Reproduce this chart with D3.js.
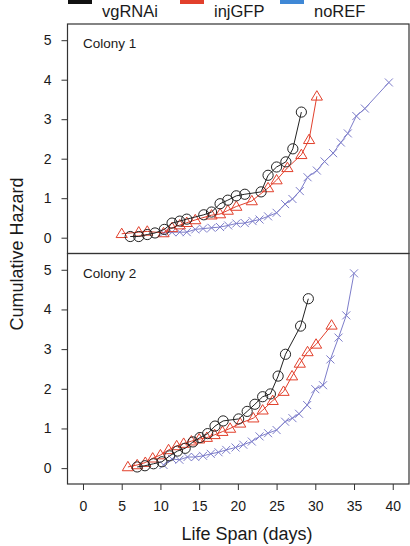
<!DOCTYPE html>
<html><head><meta charset="utf-8">
<script src="https://cdn.jsdelivr.net/npm/d3@7/dist/d3.min.js"></script>
<style>body{margin:0;background:#fff}svg{display:block}text{font-family:"Liberation Sans",Arial,sans-serif}</style>
</head><body><svg id="c" width="410" height="546"></svg>
<script>
const seriesNames = ["vgRNAi","injGFP","noREF"];
const legendColors = ["#111111","#e2402c","#3f88d6"];
const xTicks = [0,5,10,15,20,25,30,35,40];
const yTicks = [0,1,2,3,4,5];
const panelLabels = ["Colony 1","Colony 2"];

// Colony 1
const c1VgDays = [6.1,7.2,8.3,9.3,10.5,11.5,12.5,13.4,15.6,16.6,17.7,18.7,19.8,20.9,23.0,23.9,25.0,26.2,27.1,28.2];
const c1VgHaz  = [0.03,0.03,0.08,0.12,0.21,0.37,0.42,0.47,0.58,0.65,0.86,0.95,1.06,1.10,1.16,1.58,1.79,1.92,2.25,3.18];
const c1InjDays = [5.0,7.2,8.3,10.4,11.5,12.5,13.4,14.5,16.6,17.7,18.7,19.8,21.8,23.9,25.0,26.4,28.2,29.2,30.2];
const c1InjHaz  = [0.10,0.14,0.16,0.12,0.25,0.32,0.38,0.45,0.57,0.60,0.69,0.79,0.93,1.26,1.46,1.77,2.10,2.48,3.58];
const c1NoDays = [10.4,11.5,12.5,13.4,14.5,15.5,16.6,17.7,18.75,19.8,20.9,21.9,22.8,23.9,25.0,26.1,27.05,28.0,29.0,30.2,31.2,32.3,33.3,34.2,35.3,36.4,39.5];
const c1NoHaz  = [0.12,0.14,0.14,0.14,0.21,0.23,0.25,0.27,0.31,0.36,0.37,0.42,0.46,0.54,0.63,0.85,0.98,1.18,1.53,1.70,1.93,2.14,2.41,2.64,3.08,3.27,3.93];

// Colony 2
const c2VgDays = [7.0,8.0,9.1,10.2,11.2,12.2,13.2,14.2,15.1,16.1,17.05,18.1,20.1,21.2,22.2,23.2,24.2,25.2,26.15,28.1,29.1];
const c2VgHaz  = [0.03,0.06,0.11,0.16,0.31,0.43,0.50,0.66,0.77,0.87,1.06,1.19,1.24,1.43,1.61,1.80,1.87,2.32,2.87,3.58,4.27];
const c2InjDays = [5.8,7.0,8.05,9.0,10.0,11.05,12.1,13.0,14.0,15.0,16.0,17.0,18.0,19.0,20.3,22.0,23.2,24.5,25.9,27.0,28.0,29.0,30.1,32.1];
const c2InjHaz  = [0.03,0.08,0.14,0.25,0.33,0.46,0.56,0.62,0.68,0.73,0.77,0.84,0.92,1.00,1.13,1.26,1.46,1.70,1.93,2.32,2.64,2.93,3.12,3.60];
const c2NoDays = [10.4,11.5,12.45,13.5,14.5,15.5,16.5,17.5,18.5,19.7,20.7,21.8,22.8,23.9,25.0,26.1,27.05,27.9,28.95,30.0,31.0,31.95,33.0,34.0,35.0];
const c2NoHaz  = [0.08,0.23,0.21,0.28,0.28,0.31,0.36,0.40,0.46,0.52,0.59,0.67,0.80,0.88,0.96,1.17,1.26,1.37,1.59,1.99,2.09,2.74,3.29,3.85,4.91];

const panels = [
  {label: panelLabels[0], top: 24, bottom: 253.5,
   series: [[c1NoDays,c1NoHaz],[c1InjDays,c1InjHaz],[c1VgDays,c1VgHaz]]},
  {label: panelLabels[1], top: 253.5, bottom: 484,
   series: [[c2NoDays,c2NoHaz],[c2InjDays,c2InjHaz],[c2VgDays,c2VgHaz]]}
];
const markColors = ["#7d7dca","#e2402c","#222222"];
const markTypes = ["cross","triangle","circle"];

const svg = d3.select("#c");
const left = 67.5, right = 409;
const x = d3.scaleLinear().domain([-2, 42.1]).range([left, right]);

panels.forEach((p, pi) => {
  const y = d3.scaleLinear().domain([-0.4, 5.41]).range([p.bottom, p.top]);
  const g = svg.append("g");
  const ya = g.append("g").attr("transform", `translate(${left},0)`)
    .call(d3.axisLeft(y).tickValues(yTicks).tickSize(6).tickPadding(10).tickFormat(d3.format("d")));
  ya.select(".domain").remove();
  ya.selectAll("line").attr("stroke","#333");
  ya.selectAll("text").attr("font-size", 14).attr("fill","#1a1a1a")
    .style("font-family","'Liberation Sans',Arial,sans-serif");
  p.series.forEach((s, si) => {
    const pts = s[0].map((d, i) => [d, s[1][i]]);
    g.append("path").datum(pts)
      .attr("fill","none").attr("stroke", markColors[si]).attr("stroke-width", 1)
      .attr("d", d3.line().x(d => x(d[0])).y(d => y(d[1])));
    const mk = g.append("g");
    pts.forEach(d => {
      const cx = x(d[0]), cy = y(d[1]);
      if (markTypes[si] === "circle") {
        mk.append("circle").attr("cx", cx).attr("cy", cy).attr("r", 5.1)
          .attr("fill","none").attr("stroke", markColors[si]).attr("stroke-width", 1);
      } else if (markTypes[si] === "triangle") {
        mk.append("path").attr("transform", `translate(${cx},${cy})`)
          .attr("d", "M0,-5.6L5.6,3.8L-5.6,3.8Z")
          .attr("fill","none").attr("stroke", markColors[si]).attr("stroke-width", 1);
      } else {
        mk.append("path").attr("transform", `translate(${cx},${cy})`)
          .attr("d", "M-4,-4L4,4M-4,4L4,-4")
          .attr("fill","none").attr("stroke", markColors[si]).attr("stroke-width", 1);
      }
    });
  });
  g.append("rect").attr("x", left).attr("y", p.top).attr("width", right - left).attr("height", p.bottom - p.top)
    .attr("fill","none").attr("stroke","#333").attr("stroke-width", 1.2);
  g.append("text").attr("x", 83).attr("y", p.top + 24).attr("font-size", 13.5).attr("fill","#1a1a1a").text(p.label);
});

const xa = svg.append("g").attr("transform", `translate(0,484)`)
  .call(d3.axisBottom(x).tickValues(xTicks).tickSize(6).tickPadding(11));
xa.select(".domain").remove();
xa.selectAll("line").attr("stroke","#333");
xa.selectAll("text").attr("font-size", 14).attr("fill","#1a1a1a")
  .style("font-family","'Liberation Sans',Arial,sans-serif");

svg.append("text").attr("x", 247).attr("y", 540).attr("text-anchor","middle")
  .attr("font-size", 18).attr("fill","#1a1a1a").text("Life Span (days)");
svg.append("text").attr("transform","translate(23,254) rotate(-90)").attr("text-anchor","middle")
  .attr("font-size", 18).attr("fill","#1a1a1a").text("Cumulative Hazard");

const legX = [68, 180, 280];
seriesNames.forEach((n, i) => {
  svg.append("rect").attr("x", legX[i]).attr("y", -8).attr("width", 24).attr("height", 12).attr("fill", legendColors[i]);
  svg.append("text").attr("x", legX[i] + 34).attr("y", 17).attr("font-size", 16.5).attr("fill","#1a1a1a").text(n);
});
</script></body></html>
